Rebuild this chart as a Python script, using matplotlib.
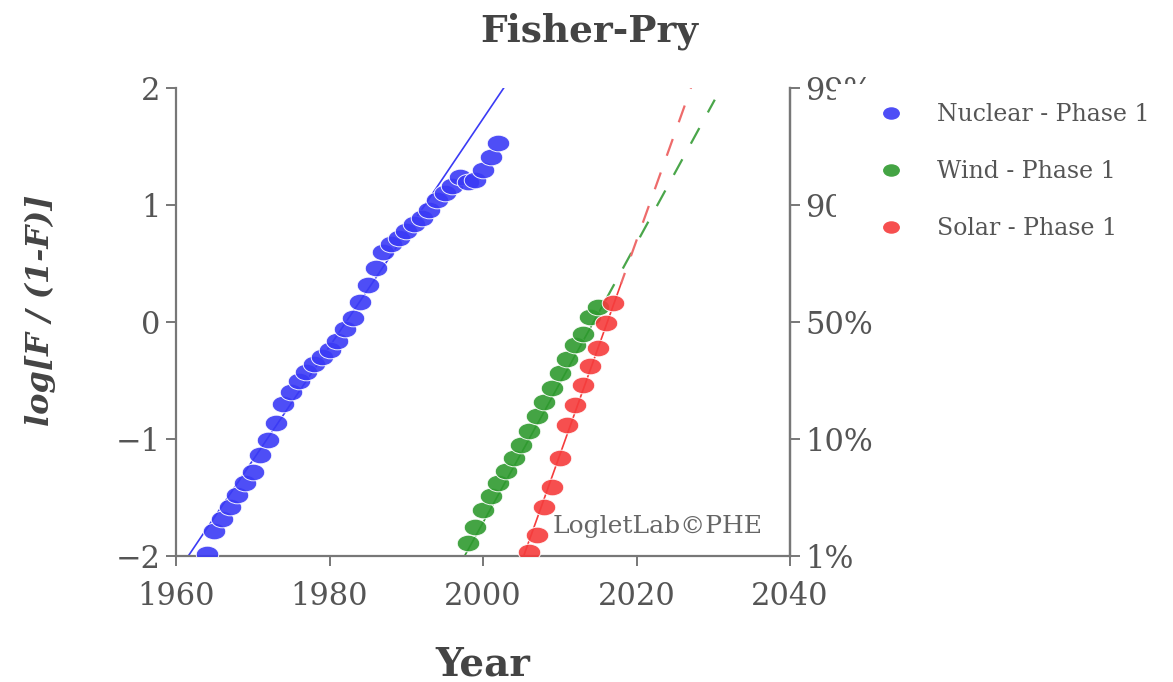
import numpy as np
import matplotlib
matplotlib.use("Agg")
import matplotlib.pyplot as plt
from matplotlib.markers import MarkerStyle
from matplotlib.transforms import Affine2D
from matplotlib.patches import Rectangle

# ---------------- data ----------------
nuclear_years = list(range(1964, 2003))
nuclear_vals = [-1.98, -1.79, -1.68, -1.58, -1.48, -1.38, -1.28, -1.14, -1.01, -0.86,
                -0.70, -0.60, -0.50, -0.43, -0.36, -0.30, -0.24, -0.16, -0.06, 0.03,
                0.17, 0.32, 0.46, 0.60, 0.67, 0.72, 0.78, 0.84, 0.89, 0.96,
                1.04, 1.10, 1.16, 1.24, 1.20, 1.21, 1.30, 1.41, 1.53]

wind_years = list(range(1998, 2016))
wind_vals = [-1.89, -1.75, -1.61, -1.49, -1.38, -1.27, -1.16, -1.05, -0.93, -0.80,
             -0.68, -0.56, -0.44, -0.32, -0.20, -0.10, 0.04, 0.13]

solar_years = list(range(2006, 2018))
solar_vals = [-1.97, -1.82, -1.58, -1.41, -1.16, -0.88, -0.71, -0.54, -0.38, -0.22,
              -0.01, 0.16]

# fitted lines: solid through data, dashed extrapolation
nuclear_fit_years = [1961.6, 2002.7]
nuclear_fit_vals = [-2.0, 2.0]
wind_fit_years = [1997.6, 2016.0, 2030.2]
wind_fit_vals = [-2.0, 0.19, 1.90]
solar_fit_years = [2005.3, 2018.0, 2027.1]
solar_fit_vals = [-2.0, 0.33, 2.0]

series_names = ["Nuclear - Phase 1", "Wind - Phase 1", "Solar - Phase 1"]
left_ticks = [-2, -1, 0, 1, 2]
left_ticklabels = ["\u22122", "\u22121", "0", "1", "2"]
right_ticklabels = ["1%", "10%", "50%", "90%", "99%"]
x_ticks = [1960, 1980, 2000, 2020, 2040]

# ---------------- style ----------------
BLUE = "#3b3bf5"
GREEN = "#2f9a2f"
RED = "#f53c3c"
GREEN_D = "#4aa64a"
RED_D = "#ee6b6b"
AXC = "#777777"
TXC = "#555555"
FONT = "DejaVu Serif"

plt.rcParams["font.family"] = FONT

fig = plt.figure(figsize=(11.73, 6.82), dpi=100)
ax = fig.add_axes([176 / 1173, 1 - 556 / 682, (790 - 176) / 1173, (556 - 88) / 682])

ell = MarkerStyle("o", transform=Affine2D().scale(1.35, 1.0))
mk = dict(linestyle="none", marker=ell, markersize=12, markeredgecolor="white",
          markeredgewidth=0.7, alpha=0.9)

# fit lines
ax.plot(nuclear_fit_years, nuclear_fit_vals, color=BLUE, lw=1.2, zorder=2)
ax.plot(wind_fit_years[:2], wind_fit_vals[:2], color=GREEN, lw=1.2, zorder=2)
ax.plot(wind_fit_years[1:], wind_fit_vals[1:], color=GREEN_D, lw=1.6,
        linestyle=(0, (8, 8)), zorder=2)
ax.plot(solar_fit_years[:2], solar_fit_vals[:2], color=RED, lw=1.2, zorder=2)
ax.plot(solar_fit_years[1:], solar_fit_vals[1:], color=RED_D, lw=1.6,
        linestyle=(3, (8, 8)), zorder=2)

# points
h1, = ax.plot(nuclear_years, nuclear_vals, color=BLUE, label=series_names[0], zorder=3, **mk)
h2, = ax.plot(wind_years, wind_vals, color=GREEN, label=series_names[1], zorder=3, **mk)
h3, = ax.plot(solar_years, solar_vals, color=RED, label=series_names[2], zorder=3, **mk)

ax.set_xlim(1960, 2040)
ax.set_ylim(-2, 2)
ax.set_xticks(x_ticks)
ax.set_xticklabels([str(t) for t in x_ticks])
ax.set_yticks(left_ticks)
ax.set_yticklabels(left_ticklabels)

ax.spines["top"].set_visible(False)
for s in ["left", "bottom", "right"]:
    ax.spines[s].set_color(AXC)
    ax.spines[s].set_linewidth(1.6)
ax.tick_params(axis="both", direction="out", length=7, width=1.4, color=AXC,
               labelcolor=TXC, labelsize=22)
ax.tick_params(axis="x", pad=11)
ax.tick_params(axis="y", pad=4)

ax2 = ax.twinx()
ax2.set_ylim(-2, 2)
ax2.set_yticks(left_ticks)
ax2.set_yticklabels(right_ticklabels)
for s in ["top", "left", "bottom"]:
    ax2.spines[s].set_visible(False)
ax2.spines["right"].set_color(AXC)
ax2.spines["right"].set_linewidth(1.6)
ax2.tick_params(axis="y", direction="out", length=7, width=1.4, color=AXC,
                labelcolor=TXC, labelsize=22, pad=4)

ax.text(0.614, 0.062, "LogletLab\u00a9PHE", transform=ax.transAxes, ha="left",
        va="center", fontsize=18, color="#666666", zorder=4)

fig.text(0.502, 1 - 31 / 682, "Fisher-Pry", ha="center", va="center",
         fontsize=27, fontweight="bold", color="#444444")
fig.text(483 / 1173, 1 - 664 / 682, "Year", ha="center", va="center",
         fontsize=28, fontweight="bold", color="#444444")
fig.text(40 / 1173, 1 - 310 / 682, "log[F / (1-F)]", ha="center", va="center",
         rotation=90, fontsize=23, fontweight="bold", fontstyle="italic", color="#444444")

# white legend background overlapping the right labels
bg = Rectangle((836 / 1173, 1 - 250 / 682), 1 - 836 / 1173, (250 - 84) / 682,
               transform=fig.transFigure, facecolor="white", edgecolor="none", zorder=5)
fig.add_artist(bg)

leg = fig.legend(handles=[h1, h2, h3], loc="upper left",
                 bbox_to_anchor=(879 / 1173, 1 - 103 / 682), frameon=False,
                 fontsize=17, labelspacing=1.45, handlelength=1.0, handletextpad=1.45,
                 borderpad=0, borderaxespad=0, numpoints=1)
leg.set_zorder(6)
for t in leg.get_texts():
    t.set_color(TXC)
for lh in leg.legend_handles:
    lh.set_alpha(0.9)
    lh.set_markeredgewidth(0)
    lh.set_markersize(9)

fig.savefig("out.png", dpi=100)
